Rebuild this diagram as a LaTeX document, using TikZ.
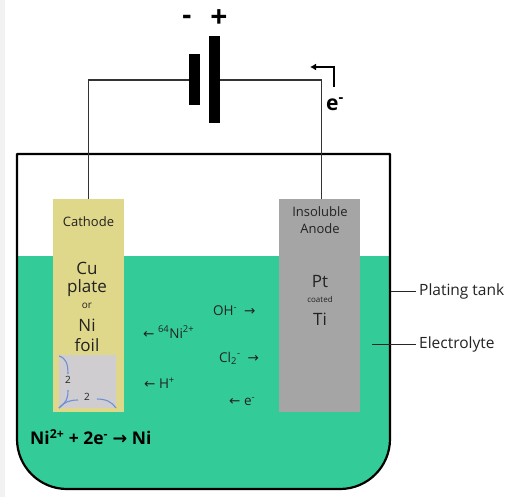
\documentclass[tikz,border=0pt]{standalone}
\usepackage{fontspec}
\setmainfont{Open Sans}
\newfontfamily\arrowfont{DejaVu Sans}
\usetikzlibrary{arrows.meta}
\definecolor{electrolyte}{HTML}{33CC99}
\definecolor{cathodeplate}{HTML}{DFD78A}
\definecolor{anodeplate}{HTML}{A5A5A5}
\definecolor{foilsquare}{HTML}{CFCDCF}
\definecolor{dimcurve}{HTML}{6C8FD6}
\definecolor{labeltext}{HTML}{222222}
\tikzstyle{wire}=[draw=black!80,line width=1.1pt]
\tikzstyle{bar}=[fill=black,draw=none,inner sep=0pt]
\tikzstyle{plate}=[draw=none,inner sep=0pt,anchor=north west]
\tikzstyle{lbl}=[inner sep=0pt,text=labeltext,align=center]
\tikzstyle{ion}=[lbl,font=\fontsize{13.5}{15}\selectfont,anchor=west]
\tikzstyle{big}=[lbl,font=\fontsize{17}{19}\selectfont]
\tikzstyle{tag}=[lbl,font=\fontsize{15.5}{17}\selectfont,anchor=west]
\tikzstyle{dim}=[draw=dimcurve,line width=1.1pt]
\tikzstyle{leader}=[line width=1pt,black!85,shorten >=3pt]
\begin{document}
\begin{tikzpicture}[x=1pt,y=-1pt]
\useasboundingbox (0,0) rectangle (505,497);
\fill[black!5] (0,0) rectangle (5,497);
% liquid
\fill[electrolyte] (17,256) -- (390,256) -- (390,439) arc[start angle=0,end angle=90,radius=50] -- (67,489) arc[start angle=90,end angle=180,radius=50] -- cycle;
% plates
\node[plate,fill=cathodeplate,minimum width=71pt,minimum height=213pt] (cathode) at (53,199) {};
\node[plate,fill=anodeplate,minimum width=81pt,minimum height=213pt] (anode) at (279,199) {};
\node[plate,fill=foilsquare,minimum width=57pt,minimum height=53pt] (foil) at (59,355) {};
% tank
\draw[line width=2.2pt,line join=round] (17,154) -- (390,154) -- (390,439) arc[start angle=0,end angle=90,radius=50] -- (67,489) arc[start angle=90,end angle=180,radius=50] -- cycle;
% battery
\node[bar,minimum width=11pt,minimum height=51pt] (minusbar) at (194.5,80) {};
\node[bar,minimum width=11pt,minimum height=87pt] (plusbar) at (214.5,80) {};
\coordinate (cathodetop) at (cathode.north);
\coordinate (anodetop) at ([xshift=1.5pt]anode.north);
\draw[wire] (minusbar.west) -| (cathodetop);
\draw[wire] (plusbar.east) -| (anodetop);
\node[lbl,font=\bfseries\fontsize{28}{28}\selectfont,text=black] (minus) at (187,20) {-};
\node[lbl,font=\bfseries\fontsize{30}{30}\selectfont,text=black] (plus) at (219,19) {+};
% electron arrow
\coordinate (arrowstart) at (334,87);
\coordinate (arrowend) at (310,67);
\draw[line width=1.8pt,-{Latex[length=6pt,width=7pt]}] (arrowstart) |- (arrowend);
\node[lbl,font=\bfseries\fontsize{21}{21}\selectfont,text=black] (eminus) at (335,104) {e\textsuperscript{-}};
% cathode text
\node[lbl,font=\fontsize{13}{15}\selectfont] (cathodelbl) at (88.5,222) {Cathode};
\node[big] (cu) at (87,268) {Cu};
\node[big] (platelbl) at (87,288) {plate};
\node[lbl,font=\fontsize{10}{11}\selectfont] (orlbl) at (87,306) {or};
\node[big] (ni) at (87,325) {Ni};
\node[big] (foillbl) at (87,345) {foil};
% foil dimensions
\draw[dim] (59,356) .. controls (66,358) and (68,364) .. (68,374);
\draw[dim] (68,390) .. controls (68,400) and (66,402) .. (59,408);
\draw[dim] (59,408) .. controls (64,402) and (70,400) .. (78,400);
\draw[dim] (97,399) .. controls (106,399) and (112,402) .. (116,408);
\node[lbl,font=\fontsize{10}{11}\selectfont] (dimv) at (68,380) {2};
\node[lbl,font=\fontsize{10}{11}\selectfont] (dimh) at (87,397) {2};
% anode text
\node[lbl,font=\fontsize{13}{15}\selectfont] (insoluble) at (320,212) {Insoluble};
\node[lbl,font=\fontsize{13}{15}\selectfont] (anodelbl) at (320,229) {Anode};
\node[big] (pt) at (320,282) {Pt};
\node[lbl,font=\fontsize{8}{9}\selectfont] (coated) at (320,299) {coated};
\node[big] (ti) at (320,319) {Ti};
% ions
\node[ion] (oh) at (213,311) {OH\textsuperscript{-}\ \ {\arrowfont →}};
\node[ion] (nickel) at (143,332) {{\arrowfont ←} \textsuperscript{64}Ni\textsuperscript{2+}};
\node[ion] (cl) at (219,358) {Cl\textsubscript{2}\textsuperscript{-}\ \ {\arrowfont →}};
\node[ion] (hplus) at (144,383) {{\arrowfont ←} H\textsuperscript{+}};
\node[ion] (eion) at (229,402) {{\arrowfont ←} e\textsuperscript{-}};
\node[ion,font=\bfseries\fontsize{17.5}{19}\selectfont,text=black] (reaction) at (30,437) {Ni\textsuperscript{2+} + 2e\textsuperscript{-} {\arrowfont →} Ni};
% outside labels
\node[tag] (tanklbl) at (419,291) {Plating tank};
\node[tag] (electrolytelbl) at (419,344) {Electrolyte};
\coordinate (tankpt) at (391,291);
\coordinate (liquidpt) at (372,344);
\draw[leader] (tankpt) -- (tanklbl.west);
\draw[leader] (liquidpt) -- (electrolytelbl.west);
\end{tikzpicture}
\end{document}
